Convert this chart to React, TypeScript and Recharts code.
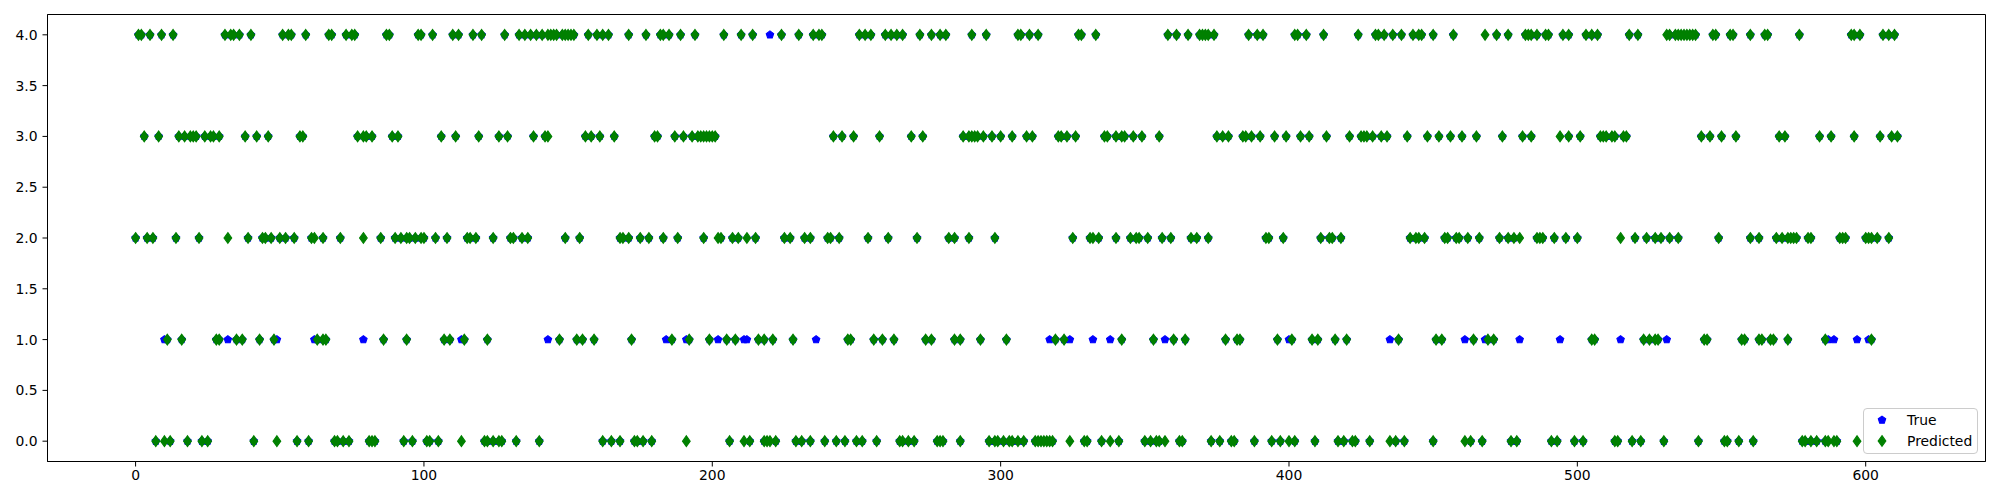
import React from "react";
import { ScatterChart, Scatter, XAxis, YAxis, ReferenceArea } from "recharts";

// Predicted class per sample index (grouped by predicted class)
const pred0 = [7, 10, 12, 18, 23, 25, 41, 49, 56, 60, 69, 70, 72, 74, 81,
  82, 83, 93, 96, 101, 102, 105, 113, 121, 122, 124, 126, 127, 132, 140, 162,
  165, 168, 173, 174, 176, 179, 191, 206, 211, 213, 218, 219, 220, 222, 229, 231, 234, 239, 243, 246,
  250, 252, 257, 265, 266, 268, 270, 278, 279, 280, 286, 296, 298, 299, 301, 303, 304, 306, 308, 312, 313, 314, 315, 316, 317, 318, 324, 329, 330,
  335, 338, 341, 350, 352, 354, 355, 357, 362, 363, 373, 376, 380, 381, 388, 394, 397, 400, 402, 409,
  417, 419, 422, 423, 428, 435, 437, 440, 450, 461, 463, 467, 477, 479, 491, 493,
  499, 502, 513, 514, 519, 522, 530, 542, 551, 552, 556, 561, 578, 579, 581, 583, 586, 587, 589, 590, 597];

const pred1 = [11, 16, 28, 29, 35, 37, 43, 48, 63, 65, 66,
  86, 94, 107, 109, 114, 122, 147, 153, 155, 159,
  172, 186, 192, 199, 205, 208, 216, 218, 221, 228,
  247, 248, 256, 259, 263, 274, 276, 284, 286, 293, 302, 319, 322,
  342, 353, 360, 364, 378, 382, 383, 396, 401, 408, 410,
  416, 420, 438, 451, 453, 464, 469, 471,
  505, 506, 523, 525, 527, 528, 544, 545, 557, 558, 563, 564, 567, 568, 573, 586, 602];

const pred2 = [0, 4, 6, 14, 22, 32, 39, 44, 45, 47, 50, 52, 55, 61, 62, 65, 71, 79,
  85, 90, 92, 94, 95, 97, 99, 100, 104, 108, 115, 116, 118, 124, 130, 131, 134, 136, 149, 154,
  168, 169, 171, 175, 178, 183, 188, 197, 202, 203, 207, 209, 212, 215, 225, 227, 232, 234, 240, 241, 244,
  254, 261, 271, 282, 284, 289, 298, 325, 331,
  332, 334, 340, 345, 347, 348, 351, 356, 359, 366, 368, 372, 392, 393, 398, 411, 414,
  415, 418, 442, 444, 445, 447, 454, 455, 458, 459, 462, 466, 473, 476, 478, 480, 486, 487, 488, 492, 496,
  500, 515, 520, 524, 527, 529, 532, 535, 549, 560, 563, 569, 571, 573, 574, 575, 576, 580, 581, 591, 592, 593,
  600, 601, 602, 604, 608];

const pred3 = [3, 8, 15, 17, 19, 20, 21, 24, 26, 27, 29, 38, 42, 46, 57, 58, 77, 79, 80, 82,
  89, 91, 106, 111, 119, 126, 129, 138, 142, 143, 156, 158, 161,
  166, 180, 181, 187, 190, 193, 195, 196, 197, 198, 199, 200, 201, 242, 245,
  249, 258, 269, 273, 287, 289, 290, 291, 292, 294, 297, 300, 304, 309, 311, 320, 321, 323, 326,
  336, 337, 340, 342, 343, 346, 349, 355, 375, 377, 379, 384, 385, 387, 390, 395, 399, 404, 407, 413,
  421, 425, 426, 427, 429, 432, 434, 441, 448, 452, 456, 460, 465, 474, 481, 484, 494, 497,
  501, 508, 509, 510, 512, 513, 516, 517, 543, 546, 550, 555, 570, 572, 584, 588, 596,
  605, 609, 611];

const pred4 = [1, 2, 5, 9, 13, 31, 33, 34, 36, 40, 51, 53, 54, 59, 67, 68, 73, 75, 76,
  87, 88, 98, 99, 103, 110, 112, 117, 120, 128, 133, 135, 137, 139, 141, 143, 144, 145, 146, 148, 149, 150, 151, 152, 157, 160, 162, 164,
  171, 177, 182, 183, 185, 189, 194, 204, 210, 214, 224, 230, 235, 237, 238,
  251, 253, 255, 260, 262, 264, 266, 272, 276, 279, 281, 290, 295, 306, 307, 310, 313, 327, 328,
  333, 358, 361, 365, 369, 370, 371, 372, 374, 386, 389, 391, 402, 403, 406, 412,
  424, 430, 431, 433, 436, 439, 443, 445, 446, 450, 457, 468, 472, 476, 482, 483, 484, 486, 489, 490, 495, 497,
  503, 505, 507, 518, 521, 531, 532, 534, 535, 536, 537, 538, 539, 540, 541, 547, 548, 553, 554, 560, 565, 566, 577,
  595, 596, 598, 606, 608, 610];

// Indices where the true class differs from the prediction (visible blue markers)
const trueClass1Mismatch = [10, 32, 49, 62, 79, 113, 143, 184, 191, 202, 211, 212, 236, 317, 324, 332, 338, 357,
  400, 435, 461, 468, 480, 494, 515, 531, 587, 589, 597, 601];
const trueClass4Mismatch = [220];

const xTicks = [0, 100, 200, 300, 400, 500, 600];
const yTicks = [0, 0.5, 1, 1.5, 2, 2.5, 3, 3.5, 4];

const predGroups: [number[], number][] = [[pred0, 0], [pred1, 1], [pred2, 2], [pred3, 3], [pred4, 4]];
const predData = predGroups.flatMap(([arr, c]) => arr.map((x) => ({ x, y: c })));
const mismatchData = [
  ...trueClass1Mismatch.map((x) => ({ x, y: 1 })),
  ...trueClass4Mismatch.map((x) => ({ x, y: 4 })),
];
const mismatchSet = new Set(mismatchData.map((d) => d.x));
const trueData = [...predData.filter((d) => !mismatchSet.has(d.x)), ...mismatchData];

const BLUE = "#0000ff";
const GREEN = "#008000";
const FONT = "DejaVu Sans, sans-serif";

const pentagonPoints = (cx: number, cy: number, r: number) =>
  Array.from({ length: 5 }, (_, k) => {
    const a = ((-90 + 72 * k) * Math.PI) / 180;
    return `${cx + r * Math.cos(a)},${cy + r * Math.sin(a)}`;
  }).join(" ");

const diamondPoints = (cx: number, cy: number, hw: number, hh: number) =>
  `${cx},${cy - hh} ${cx + hw},${cy} ${cx},${cy + hh} ${cx - hw},${cy}`;

const PentagonShape = (props: any) => {
  const { cx, cy } = props;
  if (cx == null || cy == null) return null;
  return <polygon points={pentagonPoints(cx, cy, 3.9)} fill={BLUE} stroke={BLUE} strokeWidth={1.1} />;
};

const DiamondShape = (props: any) => {
  const { cx, cy } = props;
  if (cx == null || cy == null) return null;
  return <polygon points={diamondPoints(cx, cy, 3.8, 5.3)} fill={GREEN} stroke={GREEN} strokeWidth={1.2} />;
};

const LegendBox = () => (
  <div
    style={{
      position: "absolute",
      left: 1863,
      top: 408,
      width: 115,
      height: 46,
      boxSizing: "border-box",
      border: "1px solid #cccccc",
      borderRadius: 4,
      background: "rgba(255,255,255,0.8)",
    }}
  >
    <svg width={113} height={44} style={{ display: "block" }}>
      <polygon points={pentagonPoints(18, 11, 3.9)} fill={BLUE} stroke={BLUE} strokeWidth={1.1} />
      <text x={43} y={11} dominantBaseline="central" fontSize={13.9} fontFamily={FONT} fill="#000">
        True
      </text>
      <polygon points={diamondPoints(18, 32, 3.8, 5.3)} fill={GREEN} stroke={GREEN} strokeWidth={1.2} />
      <text x={43} y={32} dominantBaseline="central" fontSize={13.9} fontFamily={FONT} fill="#000">
        Predicted
      </text>
    </svg>
  </div>
);

export default function App() {
  return (
    <div style={{ position: "absolute", left: 0, top: 0, width: 2000, height: 500, background: "#fff" }}>
      <ScatterChart width={2000} height={500} margin={{ top: 14.5, right: 14.5, bottom: 0, left: 0 }}>
        <XAxis
          type="number"
          dataKey="x"
          domain={[-30.55, 641.55]}
          ticks={xTicks}
          allowDataOverflow
          height={38.5}
          tickSize={5}
          tickMargin={4}
          axisLine={{ stroke: "#000", strokeWidth: 1 }}
          tickLine={{ stroke: "#000", strokeWidth: 1 }}
          tick={{ fill: "#000", fontSize: 13.9, fontFamily: FONT }}
        />
        <YAxis
          type="number"
          dataKey="y"
          domain={[-0.2, 4.2]}
          ticks={yTicks}
          allowDataOverflow
          width={47.5}
          tickSize={5}
          tickMargin={5}
          tickFormatter={(v: number) => v.toFixed(1)}
          axisLine={{ stroke: "#000", strokeWidth: 1 }}
          tickLine={{ stroke: "#000", strokeWidth: 1 }}
          tick={{ fill: "#000", fontSize: 13.9, fontFamily: FONT }}
        />
        <ReferenceArea x1={-30.55} x2={641.55} y1={-0.2} y2={4.2} fill="none" stroke="#000" strokeWidth={1} />
        <Scatter name="True" data={trueData} shape={<PentagonShape />} isAnimationActive={false} />
        <Scatter name="Predicted" data={predData} shape={<DiamondShape />} isAnimationActive={false} />
      </ScatterChart>
      <LegendBox />
    </div>
  );
}
